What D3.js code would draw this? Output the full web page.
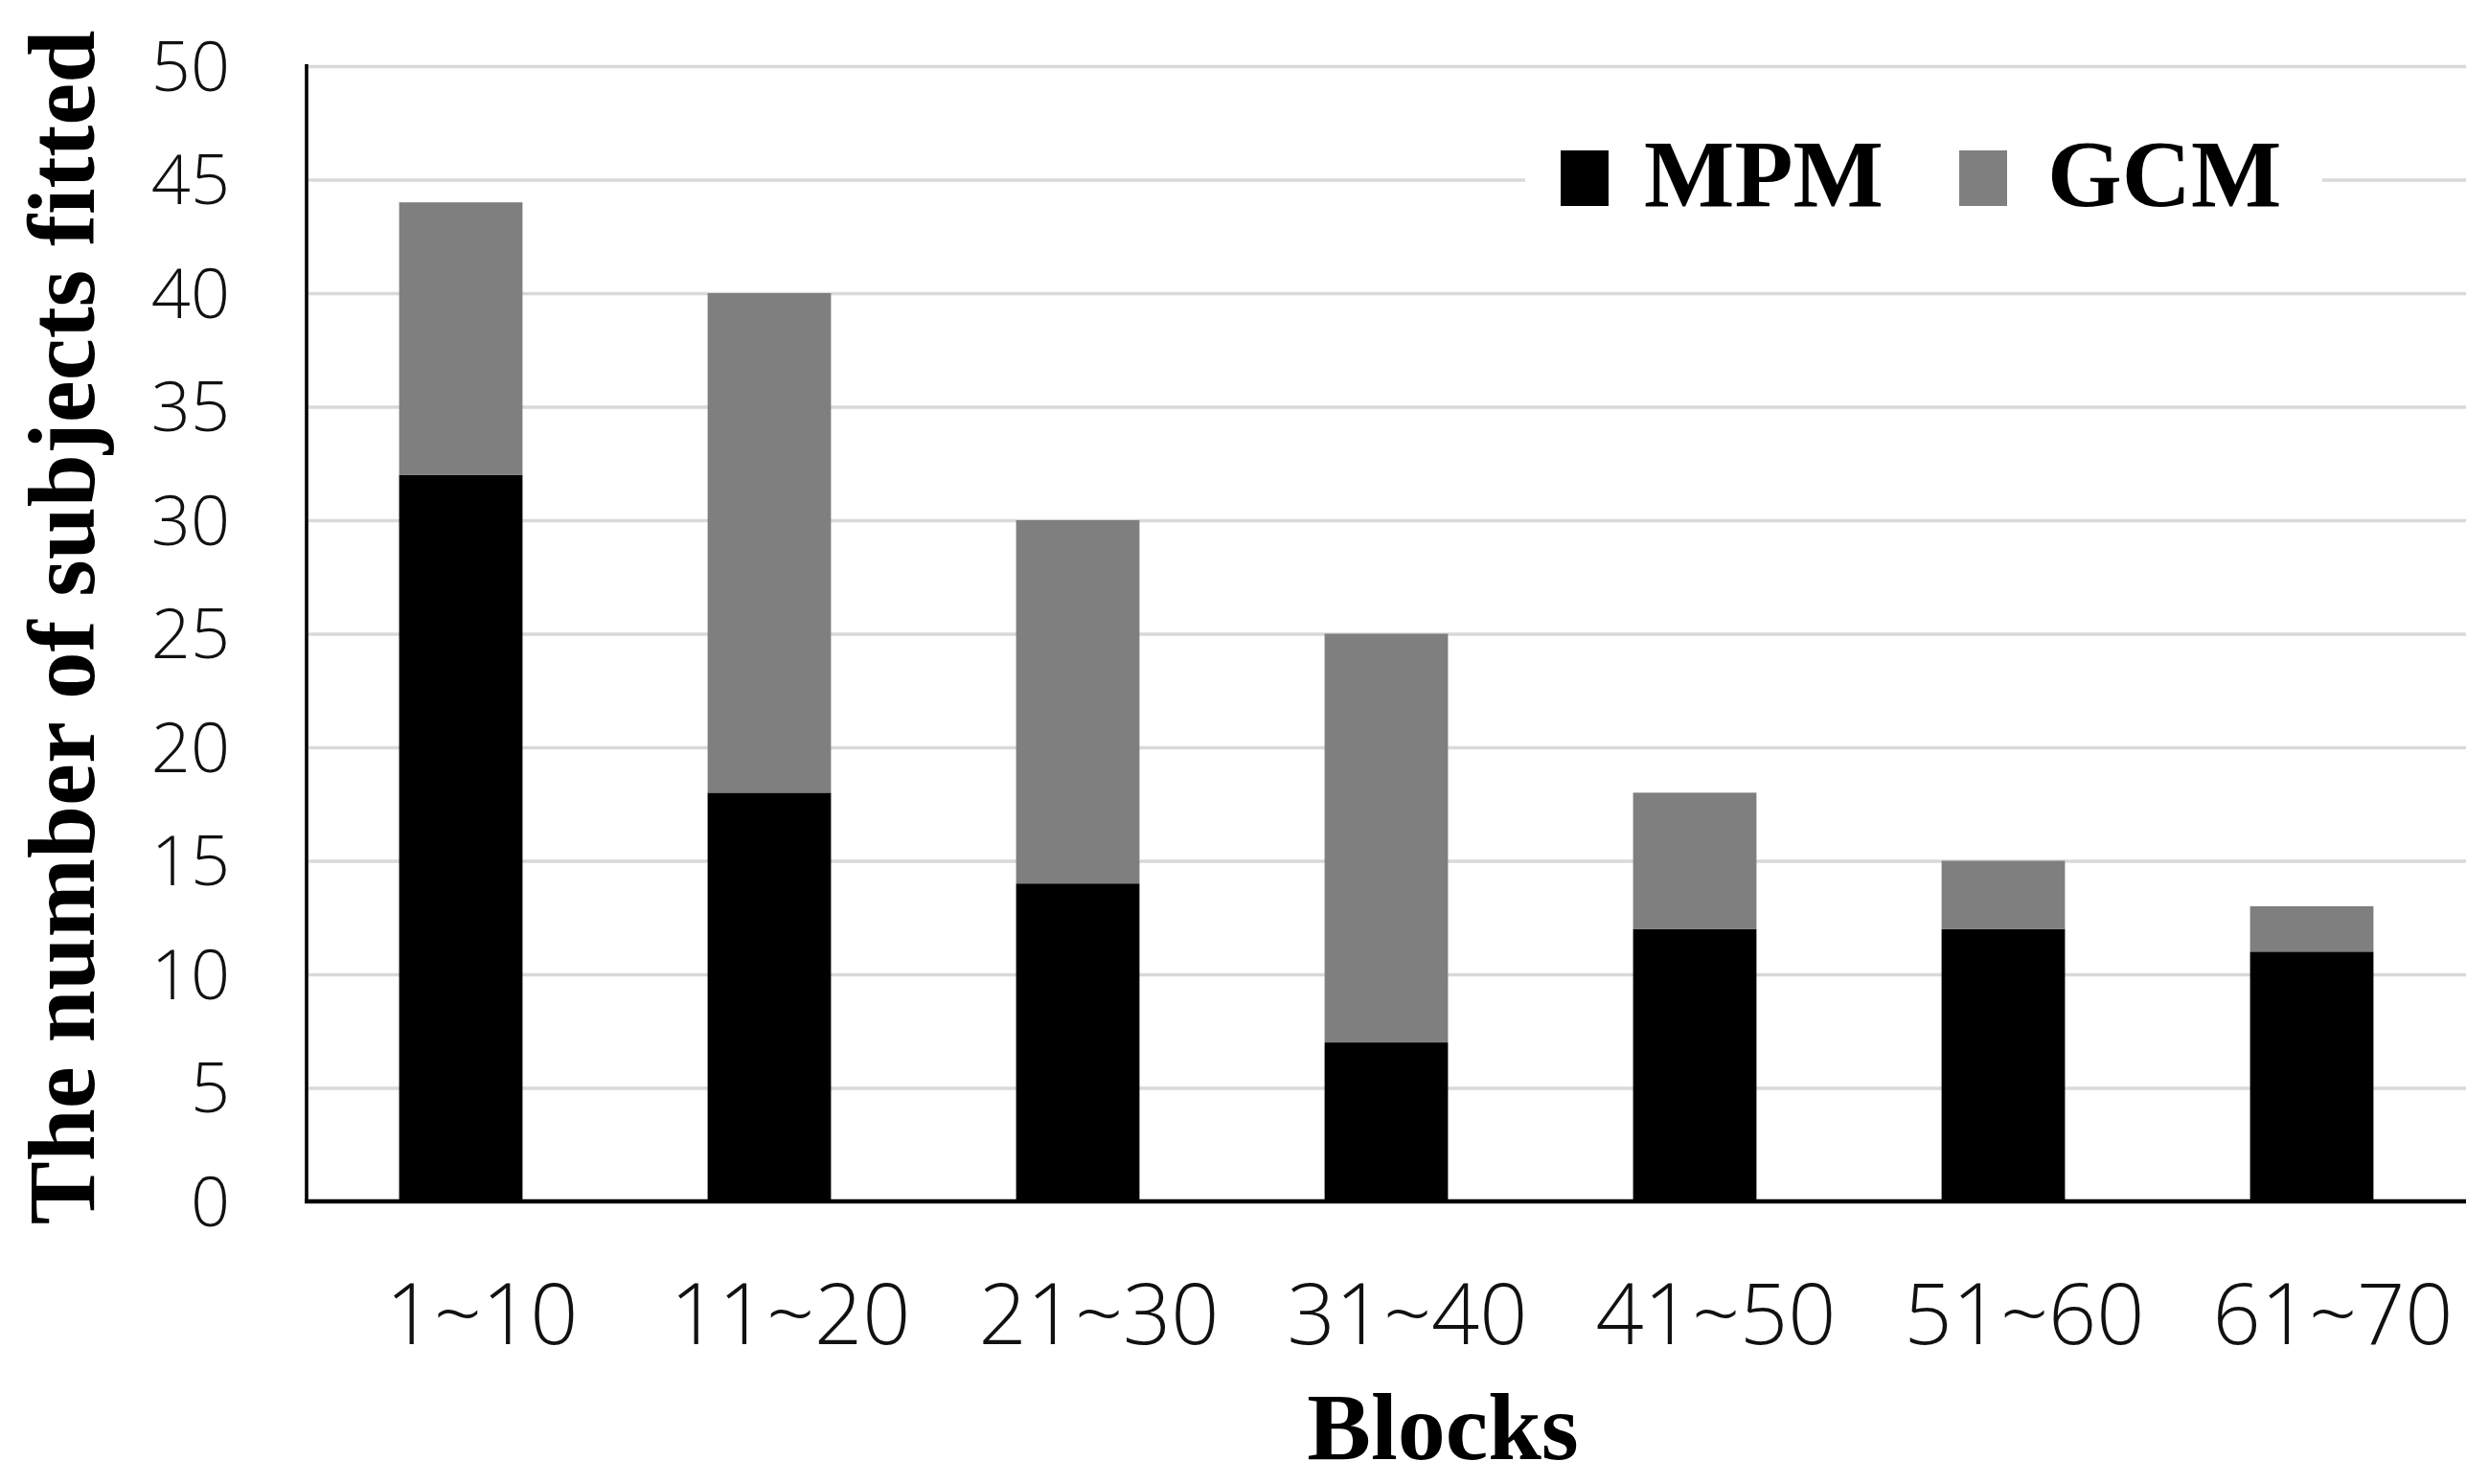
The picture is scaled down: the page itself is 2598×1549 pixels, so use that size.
<!DOCTYPE html>
<html>
<head>
<meta charset="utf-8">
<script src="https://cdn.jsdelivr.net/npm/d3@7"></script>
<style>
  html, body { margin: 0; padding: 0; background: #fff; }
  svg { display: block; }
</style>
</head>
<body>
<svg id="chart" width="2598" height="1549"></svg>
<script>
// ---- data ----
const categories = ["1~10", "11~20", "21~30", "31~40", "41~50", "51~60", "61~70"];
const seriesNames = ["MPM", "GCM"];
const mpmValues = [32, 18, 14, 7, 12, 12, 11];
const gcmValues = [12, 22, 16, 18, 6, 3, 2];
const yTicks = [0, 5, 10, 15, 20, 25, 30, 35, 40, 45, 50];
const seriesColors = ["#000000", "#7f7f7f"];

// ---- layout ----
const W = 2598, H = 1549;
const plot = { left: 320, right: 2574, top: 69, bottom: 1254 };
const svg = d3.select("#chart");
svg.append("rect").attr("width", W).attr("height", H).attr("fill", "#fff");

const x = d3.scaleBand().domain(categories).range([plot.left, plot.right])
  .paddingInner(0.6).paddingOuter(0.3);
const y = d3.scaleLinear().domain([0, 50]).range([plot.bottom, plot.top]);

const rows = categories.map((c, i) => ({ cat: c, MPM: mpmValues[i], GCM: gcmValues[i] }));
const stacked = d3.stack().keys(seriesNames)(rows);
const color = d3.scaleOrdinal().domain(seriesNames).range(seriesColors);

const sans = "'Open Sans', 'Noto Sans', sans-serif";
const serif = "'Liberation Serif', 'Times New Roman', serif";

// gridlines
const grid = d3.axisLeft(y).tickValues(yTicks.filter(v => v > 0))
  .tickSize(-(plot.right - plot.left - 2)).tickFormat("");
svg.append("g").attr("transform", `translate(${plot.left + 2},0)`).call(grid)
  .call(g => g.select(".domain").remove())
  .call(g => g.selectAll("line").attr("stroke", "#d9d9d9").attr("stroke-width", 3.5));

// legend background (covers gridline)
const legendG = svg.append("g");
legendG.append("rect").attr("x", 1592).attr("y", 130).attr("width", 832).attr("height", 110).attr("fill", "#fff");

// bars
svg.append("g").selectAll("g").data(stacked).join("g")
  .attr("fill", d => color(d.key))
  .selectAll("rect").data(d => d).join("rect")
  .attr("x", d => x(d.data.cat))
  .attr("width", x.bandwidth())
  .attr("y", d => y(d[1]))
  .attr("height", d => y(d[0]) - y(d[1]));

// y axis tick labels
const yAxis = d3.axisLeft(y).tickValues(yTicks).tickSize(0).tickPadding(0);
svg.append("g").attr("transform", `translate(240,0)`).call(yAxis)
  .call(g => g.select(".domain").remove())
  .call(g => g.selectAll("text").attr("font-family", sans).attr("font-weight", 300)
    .attr("font-size", 72).attr("fill", "#111").attr("dy", "0.35em"));

// y axis line
svg.append("line").attr("x1", plot.left).attr("x2", plot.left)
  .attr("y1", plot.top - 2).attr("y2", plot.bottom + 2)
  .attr("stroke", "#000").attr("stroke-width", 3.6);

// x axis
const xAxis = d3.axisBottom(x).tickSize(0).tickPadding(0);
svg.append("g").attr("transform", `translate(22,${plot.bottom})`).call(xAxis)
  .call(g => g.select(".domain").remove())
  .call(g => g.selectAll("text").attr("font-family", sans).attr("font-weight", 300)
    .attr("font-size", 88).attr("fill", "#111").attr("dy", 0).attr("y", 149));

svg.append("line").attr("x1", plot.left - 2).attr("x2", plot.right)
  .attr("y1", plot.bottom).attr("y2", plot.bottom)
  .attr("stroke", "#000").attr("stroke-width", 4.5);

// axis titles
svg.append("text").attr("x", 1506).attr("y", 1523).attr("text-anchor", "middle")
  .attr("font-family", serif).attr("font-weight", "bold").attr("font-size", 100)
  .attr("fill", "#000").text("Blocks");

svg.append("text").attr("transform", "translate(98,655) rotate(-90)")
  .attr("text-anchor", "middle")
  .attr("font-family", serif).attr("font-weight", "bold").attr("font-size", 99)
  .attr("fill", "#000").text("The number of subjects fitted");

// legend
const legendItems = [
  { name: seriesNames[0], sx: 1629, tx: 1716 },
  { name: seriesNames[1], sx: 2045, tx: 2137 }
];
legendItems.forEach(it => {
  legendG.append("rect").attr("x", it.sx).attr("y", 157).attr("width", 50).attr("height", 58)
    .attr("fill", color(it.name));
  legendG.append("text").attr("x", it.tx).attr("y", 215)
    .attr("font-family", serif).attr("font-weight", "bold").attr("font-size", 100)
    .attr("fill", "#000").text(it.name);
});
</script>
</body>
</html>
